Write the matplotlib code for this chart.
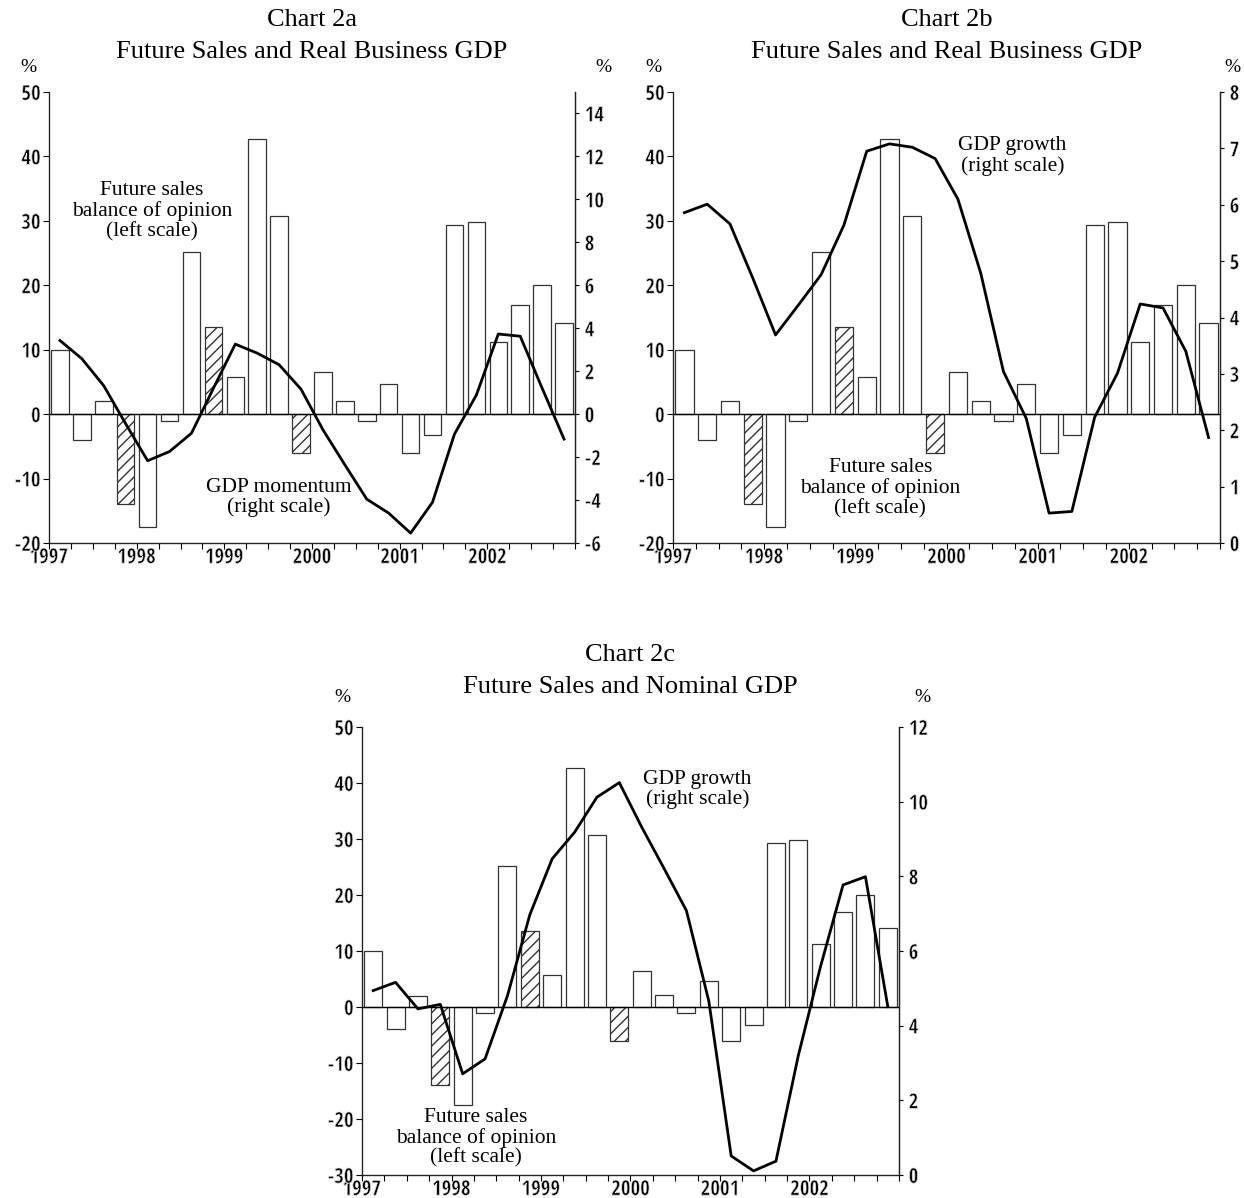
import matplotlib
matplotlib.use("Agg")
import matplotlib.pyplot as plt
from matplotlib import font_manager
import matplotlib.patheffects as pe
import numpy as np

# ---------------- data ----------------
quarters = list(range(24))  # 1997Q1 .. 2002Q4
years = ["1997", "1998", "1999", "2000", "2001", "2002"]

future_sales = [10.0, -4.0, 2.0, -14.0, -17.5, -1.0, 25.2, 13.5,
                5.8, 42.7, 30.7, -6.0, 6.5, 2.1, -1.0, 4.7,
                -6.0, -3.2, 29.3, 29.8, 11.2, 17.0, 20.0, 14.1]
hatched = [False, False, False, True, False, False, False, True,
           False, False, False, True, False, False, False, False,
           False, False, False, False, False, False, False, False]

gdp_momentum = [3.43, 2.58, 1.32, -0.45, -2.17, -1.74, -0.89, 1.2,
                3.26, 2.84, 2.3, 1.16, -0.73, -2.36, -3.96, -4.61,
                -5.54, -4.1, -0.93, 0.89, 3.73, 3.63, 1.21, -1.16]

real_gdp_growth = [5.86, 6.01, 5.66, 4.7, 3.69, 4.22, 4.76, 5.64,
                   6.95, 7.08, 7.02, 6.82, 6.1, 4.79, 3.04, 2.21,
                   0.53, 0.56, 2.23, 3.01, 4.24, 4.17, 3.4, 1.87]

nominal_gdp_growth = [4.94, 5.16, 4.45, 4.57, 2.71, 3.11, 4.8, 6.97,
                      8.47, 9.18, 10.12, 10.51, 9.32, 8.21, 7.08, 4.66,
                      0.51, 0.11, 0.37, 3.2, 5.6, 7.77, 7.99, 4.51]

W, H = 1244, 1198
fig = plt.figure(figsize=(W / 100, H / 100), dpi=100)

SERIF = "Liberation Serif"
_available = {f.name for f in font_manager.fontManager.ttflist}
NARROW = [f for f in ["Liberation Sans Narrow", "Noto Sans Condensed",
                      "Open Sans Condensed", "Roboto Condensed"] if f in _available]
CONDENSED_FOUND = len(NARROW) > 0
NARROW = NARROW + ["Liberation Sans", "DejaVu Sans"]
TICK_FS = 15 if CONDENSED_FOUND else 12.5
THIN = [pe.Normal(), pe.Stroke(linewidth=0.5, foreground="white")] if CONDENSED_FOUND else []
TITLE_FS = 19
ANN_FS = 15.5


def fmt(t):
    return str(t)


def style_labels(labels):
    for lab in labels:
        lab.set_path_effects(THIN)


def px_axes(x0, y0, x1, y1):
    return fig.add_axes([x0 / W, 1 - y1 / H, (x1 - x0) / W, (y1 - y0) / H])


def make_chart(box, title1, title2, left_lim, left_ticks, right_vals, right_lim,
               right_ticks, ann_sales, ann_gdp, gdp_label, pct_left, pct_right, title_y):
    x0, y0, x1, y1 = box
    ax = px_axes(x0, y0, x1, y1)
    ax2 = ax.twinx()
    xc = np.array(quarters) + 0.5
    for i, v in enumerate(future_sales):
        ax.bar(xc[i], v, width=0.8, bottom=0, facecolor="white",
               edgecolor="#333333", linewidth=0.9,
               hatch="///" if hatched[i] else None, zorder=2)
    ax.axhline(0, color="black", linewidth=1.0, zorder=3)
    ax.set_xlim(0, 24)
    ax.set_ylim(*left_lim)
    ax.set_yticks(left_ticks)
    style_labels(ax.set_yticklabels([fmt(t) for t in left_ticks], family=NARROW,
                                    fontsize=TICK_FS))
    ax.set_xticks([0, 4, 8, 12, 16, 20])
    style_labels(ax.set_xticklabels(years, family=NARROW, fontsize=TICK_FS))
    ax.set_xticks(range(0, 25), minor=True)
    ax.tick_params(axis="x", which="both", direction="out", length=4, width=0.8, pad=-1)
    ax.tick_params(axis="y", direction="out", length=4, width=0.8, pad=2)
    ax.spines["top"].set_visible(False)
    for s in ["left", "right", "bottom"]:
        ax.spines[s].set_linewidth(0.9)
        ax.spines[s].set_color("#222222")

    ax2.set_ylim(*right_lim)
    ax2.set_yticks(right_ticks)
    style_labels(ax2.set_yticklabels([fmt(t) for t in right_ticks], family=NARROW,
                                     fontsize=TICK_FS))
    ax2.tick_params(axis="y", direction="out", length=3, width=0.8, pad=4)
    ax2.spines["top"].set_visible(False)
    ax2.spines["right"].set_linewidth(0.9)
    ax2.spines["right"].set_color("#222222")
    ax2.set_xlim(0, 24)

    ax.set_zorder(ax2.get_zorder() + 1)
    ax.patch.set_visible(False)
    ax.plot(xc, right_vals, color="black", linewidth=2.0, zorder=5,
            transform=ax2.transData)

    ax.text(ann_sales[0], ann_sales[1], "Future sales\nbalance of opinion\n(left scale)",
            ha="center", va="center", family=SERIF, fontsize=ANN_FS,
            linespacing=1.05, zorder=6)
    ax.text(ann_gdp[0], ann_gdp[1], gdp_label + "\n(right scale)",
            ha="center", va="center", family=SERIF, fontsize=ANN_FS,
            linespacing=1.05, zorder=6)

    cx = (x0 + x1) / 2
    fig.text(cx / W, 1 - title_y / H, title1, ha="center", va="center",
             family=SERIF, fontsize=TITLE_FS)
    fig.text(cx / W, 1 - (title_y + 32) / H, title2, ha="center", va="center",
             family=SERIF, fontsize=TITLE_FS)
    fig.text(pct_left[0] / W, 1 - pct_left[1] / H, "%", ha="center", va="center",
             family=SERIF, fontsize=14)
    fig.text(pct_right[0] / W, 1 - pct_right[1] / H, "%", ha="center", va="center",
             family=SERIF, fontsize=14)
    return ax, ax2


make_chart((49, 92, 575, 543), "Chart 2a", "Future Sales and Real Business GDP",
           (-20, 50), list(range(-20, 51, 10)), gdp_momentum, (-6, 15),
           list(range(-6, 15, 2)), (4.7, 31.5), (10.5, -12.9), "GDP momentum",
           (28, 67), (603, 67), 20)

make_chart((673, 92, 1220, 543), "Chart 2b", "Future Sales and Real Business GDP",
           (-20, 50), list(range(-20, 51, 10)), real_gdp_growth, (0, 8),
           list(range(0, 9, 1)), (9.1, -11.5), (14.9, 40.1), "GDP growth",
           (653, 67), (1232, 67), 20)

make_chart((362, 727, 899, 1175), "Chart 2c", "Future Sales and Nominal GDP",
           (-30, 50), list(range(-30, 51, 10)), nominal_gdp_growth, (0, 12),
           list(range(0, 13, 2)), (5.1, -23.4), (15.0, 38.8), "GDP growth",
           (342, 698), (922, 698), 655)

fig.savefig("out.png", dpi=100)
